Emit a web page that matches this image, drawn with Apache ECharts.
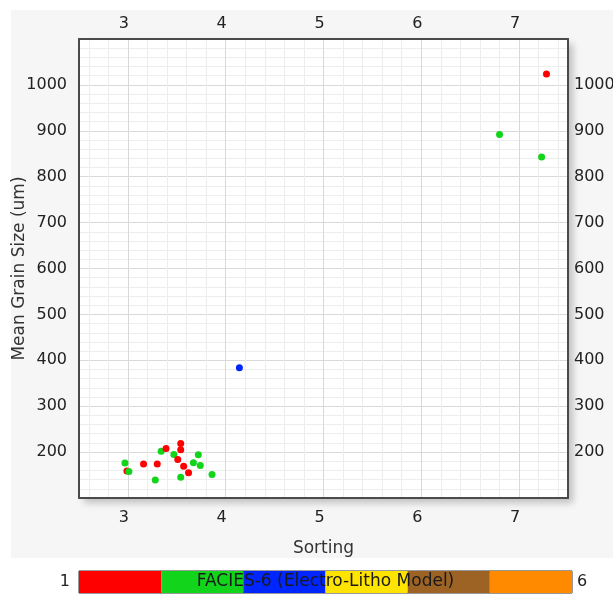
<!DOCTYPE html>
<html>
<head>
<meta charset="utf-8">
<script src="https://cdn.jsdelivr.net/npm/echarts@6/dist/echarts.min.js"></script>
<style>
  html, body { margin: 0; padding: 0; background: #ffffff; }
  #panel { position: absolute; left: 11px; top: 10px; width: 602px; height: 548px; background: #f6f6f6; }
  #chart { position: absolute; left: 0; top: 0; width: 613px; height: 595px; }
</style>
</head>
<body>
<div id="panel"></div>
<div id="chart"></div>
<script>
// ---- data ----
const sorting   = [2.97, 2.99, 3.01, 3.16, 3.30, 3.28, 3.34, 3.39, 3.47, 3.54, 3.54, 3.51, 3.57, 3.54, 3.62, 3.67, 3.72, 3.74, 3.86, 4.14, 6.80, 7.23, 7.28];
const grainSize = [176, 159, 158, 174, 174, 139, 202, 208, 195, 219, 205, 184, 169, 145, 155, 177, 194, 171, 151, 384, 892, 843, 1024];
const facies    = [2, 1, 2, 1, 1, 2, 2, 1, 2, 1, 1, 1, 1, 2, 1, 2, 2, 2, 2, 3, 2, 2, 1];

const xTickLabels = [3, 4, 5, 6, 7];
const yTickLabels = [200, 300, 400, 500, 600, 700, 800, 900, 1000];

const faciesCodes  = [1, 2, 3, 4, 5, 6];
const faciesColors = ['#ff0000', '#12d41a', '#0026ff', '#ffe400', '#9c6325', '#ff8a00'];
const faciesTitle  = 'FACIES-6 (Electro-Litho Model)';
const faciesEnds   = ['1', '6'];

// ---- build ----
const points = sorting.map((s, i) => [s, grainSize[i], facies[i]]);
const isTick = (list, v) => list.some(t => Math.abs(t - v) < 1e-6);

const MAJ = '#d9d9d9', MIN = '#ededed', NONE = 'rgba(0,0,0,0)';
const FONT = 'DejaVu Sans';
const labelStyle = { fontFamily: FONT, fontSize: 16, color: '#222' };
const nameStyle = { fontFamily: FONT, fontSize: 17, color: '#333' };
const frame = { show: true, lineStyle: { color: '#4a4a4a', width: 2 } };

const legendSeries = faciesCodes.map((c, i) => ({
  type: 'bar', stack: 'facies', xAxisIndex: 2, yAxisIndex: 2,
  data: [1], barWidth: '100%', silent: true,
  itemStyle: { color: faciesColors[i] }
}));

const chart = echarts.init(document.getElementById('chart'), null, { renderer: 'canvas' });
chart.setOption({
  animation: false,
  backgroundColor: 'transparent',
  grid: [
    { left: 79, top: 39, width: 489, height: 459, show: true, backgroundColor: '#ffffff',
      outerBoundsMode: 'none', containLabel: false,
      borderWidth: 0, shadowColor: 'rgba(0,0,0,0.22)', shadowBlur: 7, shadowOffsetX: 5, shadowOffsetY: 5 },
    { left: 79, top: 571, width: 493, height: 22, show: true, backgroundColor: 'transparent',
      outerBoundsMode: 'none', containLabel: false,
      borderColor: '#333', borderWidth: 1 }
  ],
  xAxis: [
    { gridIndex: 0, type: 'value', position: 'bottom', min: 2.5, max: 7.5, interval: 0.1,
      axisLine: frame, axisTick: { show: false },
      axisLabel: Object.assign({ margin: 12, padding: [0, 8, 0, 0],
        formatter: v => isTick(xTickLabels, v) ? String(Math.round(v)) : '' }, labelStyle),
      splitLine: { show: true, lineStyle: { width: 1,
        color: [NONE, MIN, NONE, MIN, NONE, MAJ, NONE, MIN, NONE, MIN] } },
      name: 'Sorting', nameLocation: 'middle', nameGap: 42, nameTextStyle: nameStyle },
    { gridIndex: 0, type: 'value', position: 'top', min: 2.5, max: 7.5, interval: 0.1,
      axisLine: frame, axisTick: { show: false },
      axisLabel: Object.assign({ margin: 7, padding: [0, 8, 0, 0],
        formatter: v => isTick(xTickLabels, v) ? String(Math.round(v)) : '' }, labelStyle),
      splitLine: { show: false } },
    { gridIndex: 1, type: 'value', min: 0, max: faciesCodes.length, show: false }
  ],
  yAxis: [
    { gridIndex: 0, type: 'value', position: 'left', min: 100, max: 1100, interval: 20,
      axisLine: frame, axisTick: { show: false },
      axisLabel: Object.assign({ margin: 12,
        formatter: v => isTick(yTickLabels, v) ? String(Math.round(v)) : '' }, labelStyle),
      splitLine: { show: true, lineStyle: { width: 1, color: [MAJ, MIN, MIN, MIN, MIN] } },
      name: 'Mean Grain Size (um)', nameLocation: 'middle', nameGap: 51, nameMoveOverlap: false,
      nameTextStyle: nameStyle },
    { gridIndex: 0, type: 'value', position: 'right', min: 100, max: 1100, interval: 20,
      axisLine: frame, axisTick: { show: false },
      axisLabel: Object.assign({ margin: 6,
        formatter: v => isTick(yTickLabels, v) ? String(Math.round(v)) : '' }, labelStyle),
      splitLine: { show: false } },
    { gridIndex: 1, type: 'category', position: 'left', data: [faciesEnds[0]],
      axisLine: { show: false }, axisTick: { show: false },
      axisLabel: Object.assign({ margin: 9 }, labelStyle) },
    { gridIndex: 1, type: 'category', position: 'right', data: [faciesEnds[1]],
      axisLine: { show: false }, axisTick: { show: false },
      axisLabel: Object.assign({ margin: 5 }, labelStyle) }
  ],
  graphic: [
    { type: 'text', x: 79 + 493 / 2, y: 582, z: 100,
      style: { text: faciesTitle, fontFamily: FONT, fontSize: 17, fill: '#1a1a1a',
               align: 'center', verticalAlign: 'middle' } }
  ],
  series: [
    { type: 'scatter', xAxisIndex: 0, yAxisIndex: 0, data: points, symbolSize: 7,
      itemStyle: { color: p => faciesColors[p.data[2] - 1], opacity: 1 }, z: 5 }
  ].concat(legendSeries)
});
</script>
</body>
</html>
